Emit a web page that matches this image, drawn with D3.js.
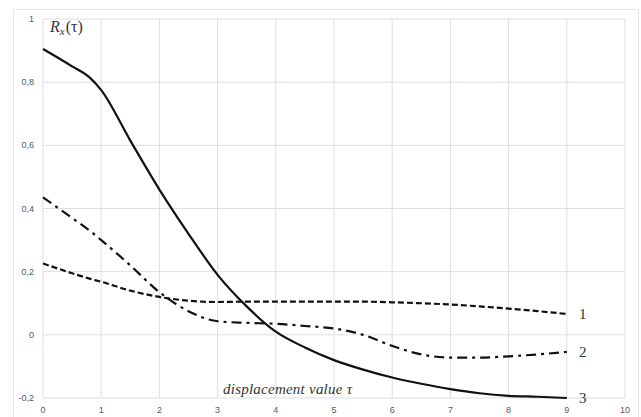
<!DOCTYPE html>
<html>
<head>
<meta charset="utf-8">
<script src="https://cdn.jsdelivr.net/npm/d3@7"></script>
<style>
  body { margin: 0; background: #fff; }
  #chart { width: 641px; height: 417px; }
</style>
</head>
<body>
<div id="chart"></div>
<script>
// displacement values tau
const tau = [0, 0.5, 0.8, 1, 1.5, 2, 2.5, 3, 3.5, 4, 4.5, 5, 5.5, 6, 6.5, 7, 7.5, 8, 8.5, 9];

// curve 1 (dashed)
const curve1 = [0.226, 0.195, 0.178, 0.168, 0.14, 0.12, 0.108, 0.104, 0.105, 0.105, 0.105, 0.105, 0.105, 0.103, 0.1, 0.096, 0.09, 0.083, 0.075, 0.066];
// curve 2 (dash-dot)
const curve2 = [0.435, 0.37, 0.33, 0.30, 0.22, 0.135, 0.075, 0.043, 0.038, 0.035, 0.028, 0.02, 0.0, -0.035, -0.062, -0.072, -0.072, -0.068, -0.062, -0.054];
// curve 3 (solid)
const curve3 = [0.905, 0.85, 0.815, 0.775, 0.615, 0.46, 0.32, 0.19, 0.09, 0.01, -0.04, -0.08, -0.11, -0.135, -0.155, -0.172, -0.185, -0.193, -0.196, -0.2];

const xTicks = [0, 1, 2, 3, 4, 5, 6, 7, 8, 9, 10];
const yTicks = [-0.2, 0, 0.2, 0.4, 0.6, 0.8, 1];

const w = 641, h = 417;
const svg = d3.select('#chart').append('svg')
  .attr('width', w)
  .attr('height', h);

// outer chart frame
svg.append('rect')
  .attr('x', 13.5).attr('y', 9.5)
  .attr('width', 625).attr('height', 420)
  .attr('fill', 'none')
  .attr('stroke', '#e6e6e6');

const x = d3.scaleLinear().domain([0, 10]).range([43, 625]);
const y = d3.scaleLinear().domain([-0.2, 1]).range([398, 19]);

// grid
svg.append('g')
  .selectAll('line')
  .data(xTicks)
  .join('line')
  .attr('x1', d => x(d)).attr('x2', d => x(d))
  .attr('y1', y(1)).attr('y2', y(-0.2))
  .attr('stroke', '#dedde6');

svg.append('g')
  .selectAll('line')
  .data(yTicks)
  .join('line')
  .attr('x1', x(0)).attr('x2', x(10))
  .attr('y1', d => y(d)).attr('y2', d => y(d))
  .attr('stroke', '#dedde6');

// tick labels
const fmt = d => String(+d.toFixed(1)).replace('.', ',');

svg.append('g')
  .selectAll('text')
  .data(xTicks)
  .join('text')
  .attr('x', d => x(d))
  .attr('y', 413)
  .attr('text-anchor', 'middle')
  .style('font-family', 'Liberation Sans, Arial, sans-serif')
  .style('font-size', '9px')
  .style('fill', '#595959')
  .text(d => d);

svg.append('g')
  .selectAll('text')
  .data(yTicks)
  .join('text')
  .attr('x', 34)
  .attr('y', d => y(d) + 3)
  .attr('text-anchor', 'end')
  .style('font-family', 'Liberation Sans, Arial, sans-serif')
  .style('font-size', '9px')
  .style('fill', '#595959')
  .text(fmt);

// curves
const line = d3.line()
  .x((d, i) => x(tau[i]))
  .y(d => y(d))
  .curve(d3.curveMonotoneX);

const series = [
  {values: curve1, dash: '6,3', label: '1'},
  {values: curve2, dash: '10,5,3,5', label: '2'},
  {values: curve3, dash: null, label: '3'}
];

svg.append('g')
  .selectAll('path')
  .data(series)
  .join('path')
  .attr('d', d => line(d.values))
  .attr('fill', 'none')
  .attr('stroke', '#111')
  .attr('stroke-width', 2.2)
  .attr('stroke-dasharray', d => d.dash);

// curve numbers
svg.append('g')
  .selectAll('text')
  .data(series)
  .join('text')
  .attr('x', 579)
  .attr('y', d => y(d.values[d.values.length - 1]) + 5)
  .style('font-family', 'Liberation Serif, serif')
  .style('font-size', '15px')
  .style('fill', '#333')
  .text(d => d.label);

// axis titles
svg.append('text')
  .attr('x', 223)
  .attr('y', 394)
  .attr('textLength', 129)
  .style('font-family', 'Liberation Serif, serif')
  .style('font-style', 'italic')
  .style('font-size', '15px')
  .style('fill', '#333')
  .text('displacement value τ');

const ry = svg.append('text')
  .attr('x', 50)
  .attr('y', 32)
  .style('font-family', 'Liberation Serif, serif')
  .style('font-style', 'italic')
  .style('font-size', '16px')
  .style('fill', '#333');
ry.append('tspan').text('R');
ry.append('tspan').attr('dy', 3).style('font-size', '11px').text('x');
ry.append('tspan').attr('dy', -3).attr('dx', 1).style('font-style', 'normal').text('(τ)');
</script>
</body>
</html>
